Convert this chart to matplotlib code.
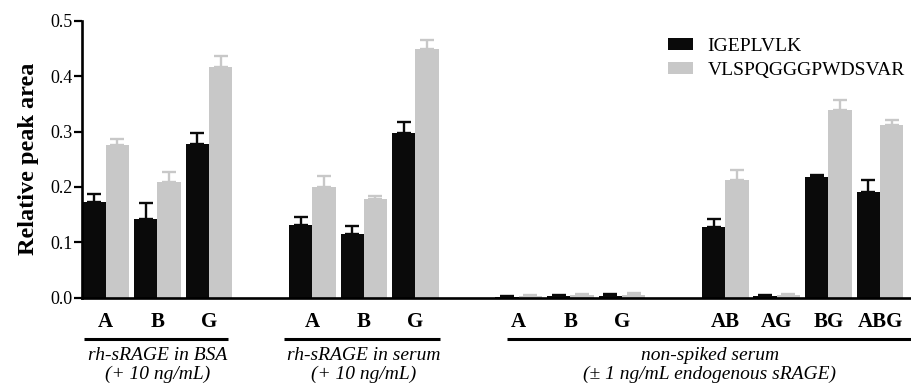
import numpy as np
import matplotlib
matplotlib.use('Agg')
import matplotlib.pyplot as plt

plt.rcParams['font.family'] = ['Liberation Serif', 'DejaVu Serif']

# bar categories, and which block of bars each one belongs to
categories = ['A', 'B', 'G', 'A', 'B', 'G', 'A', 'B', 'G', 'AB', 'AG', 'BG', 'ABG']
blocks = [0, 0, 0, 1, 1, 1, 2, 2, 2, 3, 3, 3, 3]

series_names = ['IGEPLVLK', 'VLSPQGGGPWDSVAR']
igep = [0.173, 0.142, 0.277, 0.131, 0.115, 0.297, 0.002, 0.003, 0.003, 0.127, 0.003, 0.217, 0.190]
igep_err = [0.015, 0.029, 0.020, 0.014, 0.014, 0.021, 0.001, 0.001, 0.004, 0.015, 0.001, 0.004, 0.023]
vlsp = [0.276, 0.209, 0.416, 0.200, 0.178, 0.449, 0.003, 0.005, 0.004, 0.212, 0.005, 0.338, 0.312]
vlsp_err = [0.010, 0.018, 0.020, 0.020, 0.006, 0.016, 0.001, 0.001, 0.004, 0.019, 0.001, 0.019, 0.008]

group_labels = ['rh-sRAGE in BSA', 'rh-sRAGE in serum', 'non-spiked serum']
group_sublabels = ['(+ 10 ng/mL)', '(+ 10 ng/mL)', '(\u00b1 1 ng/mL endogenous sRAGE)']

black = '#0a0a0a'
grey = '#c8c8c8'

x = np.arange(len(categories)) + np.array(blocks)
w = 0.452

fig = plt.figure(figsize=(9.11, 3.85), dpi=100)
ax = fig.add_axes([0.09, 0.2268, 0.91, 0.7194])

zeros = np.zeros(len(x))
ax.bar(x - w / 2, igep, w, color=black, label=series_names[0],
       yerr=[zeros, igep_err],
       error_kw=dict(ecolor=black, elinewidth=1.7, capsize=5, capthick=1.7))
ax.bar(x + w / 2, vlsp, w, color=grey, label=series_names[1],
       yerr=[zeros, vlsp_err],
       error_kw=dict(ecolor=grey, elinewidth=1.7, capsize=5, capthick=1.7))

ax.set_xlim(-0.46, 15.6)
ax.set_ylim(0, 0.5)
ax.set_yticks([0.0, 0.1, 0.2, 0.3, 0.4, 0.5])
ax.set_yticklabels(['0.0', '0.1', '0.2', '0.3', '0.4', '0.5'], fontsize=13)
ax.set_xticks([])
ax.tick_params(axis='y', direction='out', length=6, width=1.6, pad=1)
for s in ['top', 'right']:
    ax.spines[s].set_visible(False)
for s in ['left', 'bottom']:
    ax.spines[s].set_linewidth(1.9)
ax.set_ylabel('Relative peak area', fontsize=17.5, fontweight='bold', labelpad=8)

# category labels under each pair
tr = ax.get_xaxis_transform()
for xi, c in zip(x, categories):
    ax.text(xi, -0.088, c, transform=tr, ha='center', va='center',
            fontsize=15, fontweight='bold')

# underlines and group captions
spans = [(-0.43, 2.36), (3.46, 6.47), (7.77, 15.6)]
centers = [1, 5, 11.7]
for (a, b), cx, g1, g2 in zip(spans, centers, group_labels, group_sublabels):
    ax.plot([a, b], [-0.149, -0.149], transform=tr, color='black', lw=2.2,
            clip_on=False, solid_capstyle='butt')
    ax.text(cx, -0.207, g1, transform=tr, ha='center', va='center',
            fontsize=14, style='italic')
    ax.text(cx, -0.275, g2, transform=tr, ha='center', va='center',
            fontsize=14, style='italic')

ax.legend(loc='upper left', bbox_to_anchor=(0.733, 0.902), bbox_transform=fig.transFigure,
          frameon=False, fontsize=14, handlelength=1.3, handleheight=0.57,
          handletextpad=0.75, labelspacing=0.38, borderpad=0, borderaxespad=0)

fig.savefig('out.png', dpi=100)
